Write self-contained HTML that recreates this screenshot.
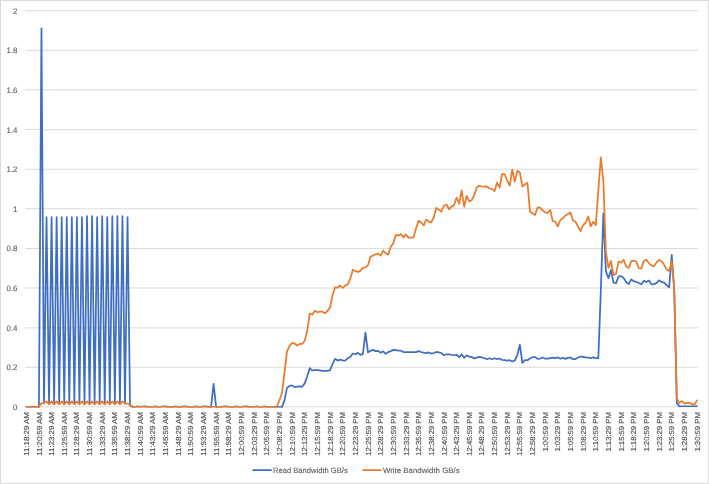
<!DOCTYPE html>
<html lang="en"><head><meta charset="utf-8"><title>Bandwidth chart</title>
<style>html,body{margin:0;padding:0;background:#fff}body{width:709px;height:484px;overflow:hidden}svg{display:block}text{font-family:"Liberation Sans",Arial,sans-serif;fill:#5a5a5a;stroke:#5a5a5a;stroke-width:0.1;text-rendering:geometricPrecision}.xl text{stroke-width:0.2}</style></head><body>
<svg width="709" height="484" viewBox="0 0 709 484">
<rect x="0" y="0" width="709" height="484" fill="#fff"/>
<rect x="0.5" y="0.5" width="708" height="483" fill="none" stroke="#dbdbdb" stroke-width="1"/>
<g stroke="#dbdbdb" stroke-width="1" fill="none">
<line x1="25.10" y1="406.80" x2="698.10" y2="406.80"/>
<line x1="25.10" y1="367.30" x2="698.10" y2="367.30"/>
<line x1="25.10" y1="327.90" x2="698.10" y2="327.90"/>
<line x1="25.10" y1="288.00" x2="698.10" y2="288.00"/>
<line x1="25.10" y1="248.50" x2="698.10" y2="248.50"/>
<line x1="25.10" y1="208.70" x2="698.10" y2="208.70"/>
<line x1="25.10" y1="169.30" x2="698.10" y2="169.30"/>
<line x1="25.10" y1="129.70" x2="698.10" y2="129.70"/>
<line x1="25.10" y1="89.80" x2="698.10" y2="89.80"/>
<line x1="25.10" y1="50.30" x2="698.10" y2="50.30"/>
<line x1="25.10" y1="10.70" x2="698.10" y2="10.70"/>
</g>
<g font-size="7.9" text-anchor="end">
<text x="17.5" y="410.00">0</text>
<text x="17.5" y="370.10">0.2</text>
<text x="17.5" y="330.70">0.4</text>
<text x="17.5" y="290.80">0.6</text>
<text x="17.5" y="251.30">0.8</text>
<text x="17.5" y="211.50">1</text>
<text x="17.5" y="172.10">1.2</text>
<text x="17.5" y="132.50">1.4</text>
<text x="17.5" y="92.60">1.6</text>
<text x="17.5" y="53.10">1.8</text>
<text x="17.5" y="13.50">2</text>
</g>
<g class="xl" font-size="7.3" text-anchor="end">
<text transform="translate(28.87,412.1) rotate(-90)" textLength="43.7" lengthAdjust="spacingAndGlyphs">11:18:29 AM</text>
<text transform="translate(41.53,412.1) rotate(-90)" textLength="43.7" lengthAdjust="spacingAndGlyphs">11:20:59 AM</text>
<text transform="translate(54.18,412.1) rotate(-90)" textLength="43.7" lengthAdjust="spacingAndGlyphs">11:23:29 AM</text>
<text transform="translate(66.84,412.1) rotate(-90)" textLength="43.7" lengthAdjust="spacingAndGlyphs">11:25:59 AM</text>
<text transform="translate(79.49,412.1) rotate(-90)" textLength="43.7" lengthAdjust="spacingAndGlyphs">11:28:29 AM</text>
<text transform="translate(92.15,412.1) rotate(-90)" textLength="43.7" lengthAdjust="spacingAndGlyphs">11:30:59 AM</text>
<text transform="translate(104.81,412.1) rotate(-90)" textLength="43.7" lengthAdjust="spacingAndGlyphs">11:33:29 AM</text>
<text transform="translate(117.46,412.1) rotate(-90)" textLength="43.7" lengthAdjust="spacingAndGlyphs">11:35:59 AM</text>
<text transform="translate(130.12,412.1) rotate(-90)" textLength="43.7" lengthAdjust="spacingAndGlyphs">11:38:29 AM</text>
<text transform="translate(142.77,412.1) rotate(-90)" textLength="43.7" lengthAdjust="spacingAndGlyphs">11:40:59 AM</text>
<text transform="translate(155.43,412.1) rotate(-90)" textLength="43.7" lengthAdjust="spacingAndGlyphs">11:43:29 AM</text>
<text transform="translate(168.09,412.1) rotate(-90)" textLength="43.7" lengthAdjust="spacingAndGlyphs">11:45:59 AM</text>
<text transform="translate(180.74,412.1) rotate(-90)" textLength="43.7" lengthAdjust="spacingAndGlyphs">11:48:29 AM</text>
<text transform="translate(193.40,412.1) rotate(-90)" textLength="43.7" lengthAdjust="spacingAndGlyphs">11:50:59 AM</text>
<text transform="translate(206.05,412.1) rotate(-90)" textLength="43.7" lengthAdjust="spacingAndGlyphs">11:53:29 AM</text>
<text transform="translate(218.71,412.1) rotate(-90)" textLength="43.7" lengthAdjust="spacingAndGlyphs">11:55:59 AM</text>
<text transform="translate(231.37,412.1) rotate(-90)" textLength="43.7" lengthAdjust="spacingAndGlyphs">11:58:29 AM</text>
<text transform="translate(244.02,412.1) rotate(-90)" textLength="43.7" lengthAdjust="spacingAndGlyphs">12:00:59 PM</text>
<text transform="translate(256.68,412.1) rotate(-90)" textLength="43.7" lengthAdjust="spacingAndGlyphs">12:03:29 PM</text>
<text transform="translate(269.33,412.1) rotate(-90)" textLength="43.7" lengthAdjust="spacingAndGlyphs">12:05:59 PM</text>
<text transform="translate(281.99,412.1) rotate(-90)" textLength="43.7" lengthAdjust="spacingAndGlyphs">12:08:29 PM</text>
<text transform="translate(294.65,412.1) rotate(-90)" textLength="43.7" lengthAdjust="spacingAndGlyphs">12:10:59 PM</text>
<text transform="translate(307.30,412.1) rotate(-90)" textLength="43.7" lengthAdjust="spacingAndGlyphs">12:13:29 PM</text>
<text transform="translate(319.96,412.1) rotate(-90)" textLength="43.7" lengthAdjust="spacingAndGlyphs">12:15:59 PM</text>
<text transform="translate(332.61,412.1) rotate(-90)" textLength="43.7" lengthAdjust="spacingAndGlyphs">12:18:29 PM</text>
<text transform="translate(345.27,412.1) rotate(-90)" textLength="43.7" lengthAdjust="spacingAndGlyphs">12:20:59 PM</text>
<text transform="translate(357.93,412.1) rotate(-90)" textLength="43.7" lengthAdjust="spacingAndGlyphs">12:23:29 PM</text>
<text transform="translate(370.58,412.1) rotate(-90)" textLength="43.7" lengthAdjust="spacingAndGlyphs">12:25:59 PM</text>
<text transform="translate(383.24,412.1) rotate(-90)" textLength="43.7" lengthAdjust="spacingAndGlyphs">12:28:29 PM</text>
<text transform="translate(395.89,412.1) rotate(-90)" textLength="43.7" lengthAdjust="spacingAndGlyphs">12:30:59 PM</text>
<text transform="translate(408.55,412.1) rotate(-90)" textLength="43.7" lengthAdjust="spacingAndGlyphs">12:33:29 PM</text>
<text transform="translate(421.21,412.1) rotate(-90)" textLength="43.7" lengthAdjust="spacingAndGlyphs">12:35:59 PM</text>
<text transform="translate(433.86,412.1) rotate(-90)" textLength="43.7" lengthAdjust="spacingAndGlyphs">12:38:29 PM</text>
<text transform="translate(446.52,412.1) rotate(-90)" textLength="43.7" lengthAdjust="spacingAndGlyphs">12:40:59 PM</text>
<text transform="translate(459.17,412.1) rotate(-90)" textLength="43.7" lengthAdjust="spacingAndGlyphs">12:43:29 PM</text>
<text transform="translate(471.83,412.1) rotate(-90)" textLength="43.7" lengthAdjust="spacingAndGlyphs">12:45:59 PM</text>
<text transform="translate(484.49,412.1) rotate(-90)" textLength="43.7" lengthAdjust="spacingAndGlyphs">12:48:29 PM</text>
<text transform="translate(497.14,412.1) rotate(-90)" textLength="43.7" lengthAdjust="spacingAndGlyphs">12:50:59 PM</text>
<text transform="translate(509.80,412.1) rotate(-90)" textLength="43.7" lengthAdjust="spacingAndGlyphs">12:53:29 PM</text>
<text transform="translate(522.45,412.1) rotate(-90)" textLength="43.7" lengthAdjust="spacingAndGlyphs">12:55:59 PM</text>
<text transform="translate(535.11,412.1) rotate(-90)" textLength="43.7" lengthAdjust="spacingAndGlyphs">12:58:29 PM</text>
<text transform="translate(547.77,412.1) rotate(-90)" textLength="39.5" lengthAdjust="spacingAndGlyphs">1:00:59 PM</text>
<text transform="translate(560.42,412.1) rotate(-90)" textLength="39.5" lengthAdjust="spacingAndGlyphs">1:03:29 PM</text>
<text transform="translate(573.08,412.1) rotate(-90)" textLength="39.5" lengthAdjust="spacingAndGlyphs">1:05:59 PM</text>
<text transform="translate(585.73,412.1) rotate(-90)" textLength="39.5" lengthAdjust="spacingAndGlyphs">1:08:29 PM</text>
<text transform="translate(598.39,412.1) rotate(-90)" textLength="39.5" lengthAdjust="spacingAndGlyphs">1:10:59 PM</text>
<text transform="translate(611.05,412.1) rotate(-90)" textLength="39.5" lengthAdjust="spacingAndGlyphs">1:13:29 PM</text>
<text transform="translate(623.70,412.1) rotate(-90)" textLength="39.5" lengthAdjust="spacingAndGlyphs">1:15:59 PM</text>
<text transform="translate(636.36,412.1) rotate(-90)" textLength="39.5" lengthAdjust="spacingAndGlyphs">1:18:29 PM</text>
<text transform="translate(649.01,412.1) rotate(-90)" textLength="39.5" lengthAdjust="spacingAndGlyphs">1:20:59 PM</text>
<text transform="translate(661.67,412.1) rotate(-90)" textLength="39.5" lengthAdjust="spacingAndGlyphs">1:23:29 PM</text>
<text transform="translate(674.33,412.1) rotate(-90)" textLength="39.5" lengthAdjust="spacingAndGlyphs">1:25:59 PM</text>
<text transform="translate(686.98,412.1) rotate(-90)" textLength="39.5" lengthAdjust="spacingAndGlyphs">1:28:29 PM</text>
<text transform="translate(699.64,412.1) rotate(-90)" textLength="39.5" lengthAdjust="spacingAndGlyphs">1:30:59 PM</text>
</g>
<path d="M26.27,406.80 L28.80,406.80 L31.33,406.80 L33.86,406.80 L36.39,406.80 L38.93,406.80" fill="none" stroke="#3f6fc4" stroke-width="1.45" stroke-linejoin="round" stroke-linecap="round"/>
<path d="M38.93,406.80 L41.46,28.27 L43.99,403.57 L46.52,217.21 L49.05,403.57 L51.58,217.21 L54.11,403.57 L56.64,217.21 L59.18,403.57 L61.71,217.21 L64.24,403.57 L66.77,217.21 L69.30,403.57 L71.83,217.21 L74.36,403.57 L76.89,217.21 L79.43,403.57 L81.96,217.21 L84.49,403.57 L87.02,216.22 L89.55,403.57 L92.08,216.22 L94.61,403.57 L97.14,217.21 L99.67,403.57 L102.21,216.22 L104.74,403.57 L107.27,217.21 L109.80,403.57 L112.33,216.22 L114.86,403.57 L117.39,216.22 L119.92,403.57 L122.46,216.22 L124.99,403.57 L127.52,217.21 L130.05,405.45 L132.58,406.80" fill="none" stroke="#3f6fc4" stroke-width="1.75" stroke-linejoin="round" stroke-linecap="round"/>
<path d="M132.58,406.80 L135.11,406.80 L137.64,406.30 L140.17,406.80 L142.71,406.50 L145.24,406.30 L147.77,406.80 L150.30,406.80 L152.83,406.80 L155.36,406.30 L157.89,406.80 L160.42,406.80 L162.95,406.50 L165.49,406.30 L168.02,406.80 L170.55,406.80 L173.08,406.80 L175.61,406.30 L178.14,406.80 L180.67,406.80 L183.20,406.50 L185.74,406.30 L188.27,406.80 L190.80,406.80 L193.33,406.80 L195.86,406.30 L198.39,406.80 L200.92,406.80 L203.45,406.50 L205.99,406.30 L208.52,406.80 L211.05,406.80" fill="none" stroke="#3f6fc4" stroke-width="1.45" stroke-linejoin="round" stroke-linecap="round"/>
<path d="M211.05,406.80 L213.58,383.96 L216.11,406.80" fill="none" stroke="#3f6fc4" stroke-width="1.75" stroke-linejoin="round" stroke-linecap="round"/>
<path d="M216.11,406.80 L218.64,406.80 L221.17,406.80 L223.70,406.50 L226.23,406.30 L228.77,406.80 L231.30,406.80 L233.83,406.80 L236.36,406.30 L238.89,406.80 L241.42,406.80 L243.95,406.50 L246.48,406.30 L249.02,406.80 L251.55,406.80 L254.08,406.80 L256.61,406.30 L259.14,406.80 L261.67,406.80 L264.20,406.30 L266.73,406.80 L269.27,406.80 L271.80,406.80 L274.33,406.80 L276.86,406.80 L279.39,406.80 L281.92,406.80" fill="none" stroke="#3f6fc4" stroke-width="1.45" stroke-linejoin="round" stroke-linecap="round"/>
<path d="M281.92,406.80 L284.45,400.60 L286.98,387.93 L289.51,385.95 L292.05,385.35 L294.58,387.13 L297.11,386.54 L299.64,386.34 L302.17,386.74 L304.70,383.37 L307.23,376.24 L309.76,368.12 L312.30,370.30 L314.83,370.10 L317.36,370.10 L319.89,370.30 L322.42,370.89 L324.95,370.89 L327.48,370.89 L330.01,370.30 L332.55,363.96 L335.08,358.81 L337.61,360.59 L340.14,359.60 L342.67,360.40 L345.20,360.59 L347.73,358.22 L350.26,357.03 L352.79,353.47 L355.33,354.26 L357.86,352.87 L360.39,354.85 L362.92,353.86 L365.45,332.67 L367.98,352.28 L370.51,350.89 L373.04,349.90 L375.58,351.09 L378.11,350.89 L380.64,352.67 L383.17,351.29 L385.70,353.86 L388.23,352.08 L390.76,351.09 L393.29,349.90 L395.83,350.10 L398.36,350.69 L400.89,350.69 L403.42,352.08 L405.95,352.08 L408.48,352.08 L411.01,352.08 L413.54,352.08 L416.07,352.08 L418.61,351.09 L421.14,351.98 L423.67,352.67 L426.20,353.07 L428.73,352.47 L431.26,353.47 L433.79,353.07 L436.32,351.98 L438.86,352.28 L441.39,353.17 L443.92,355.25 L446.45,354.26 L448.98,354.26 L451.51,354.75 L454.04,355.25 L456.57,354.75 L459.11,357.23 L461.64,354.26 L464.17,357.72 L466.70,355.45 L469.23,356.73 L471.76,356.93 L474.29,358.42 L476.82,357.53 L479.35,356.93 L481.89,357.43 L484.42,358.22 L486.95,359.21 L489.48,358.22 L492.01,359.21 L494.54,358.22 L497.07,359.21 L499.60,358.52 L502.14,360.00 L504.67,360.20 L507.20,360.69 L509.73,360.20 L512.26,361.49 L514.79,360.50 L517.32,355.25 L519.85,344.75 L522.39,362.97 L524.92,360.20 L527.45,360.20 L529.98,358.52 L532.51,357.23 L535.04,357.03 L537.57,358.91 L540.10,358.52 L542.63,357.53 L545.17,358.71 L547.70,358.71 L550.23,358.22 L552.76,357.72 L555.29,358.12 L557.82,357.43 L560.35,358.71 L562.88,357.72 L565.42,358.91 L567.95,357.92 L570.48,357.43 L573.01,359.21 L575.54,359.01 L578.07,357.53 L580.60,356.53 L583.13,356.93 L585.67,357.43 L588.20,357.72 L590.73,358.22 L593.26,357.43 L595.79,358.22 L598.32,358.22 L600.85,289.69 L603.38,213.44 L605.91,271.27 L608.45,278.21 L610.98,269.89 L613.51,282.76 L616.04,283.16 L618.57,276.42 L621.10,276.23 L623.63,278.01 L626.16,281.97 L628.70,284.15 L631.23,279.39 L633.76,281.18 L636.29,281.97 L638.82,282.96 L641.35,284.25 L643.88,280.88 L646.41,282.07 L648.95,280.58 L651.48,284.35 L654.01,284.15 L656.54,283.16 L659.07,280.29 L661.60,282.17 L664.13,282.56 L666.66,285.14 L669.19,287.32 L671.73,254.84 L674.26,289.69 L676.79,403.18 L679.32,406.21" fill="none" stroke="#3f6fc4" stroke-width="1.75" stroke-linejoin="round" stroke-linecap="round"/>
<path d="M679.32,406.21 L681.85,406.21 L684.38,406.21 L686.91,406.21 L689.44,406.21 L691.98,406.21 L694.51,406.21 L697.04,406.21" fill="none" stroke="#3f6fc4" stroke-width="1.45" stroke-linejoin="round" stroke-linecap="round"/>
<path d="M26.27,406.80 L28.80,406.80 L31.33,406.80 L33.86,406.80 L36.39,406.80 L38.93,406.80" fill="none" stroke="#ee7a2b" stroke-width="1.45" stroke-linejoin="round" stroke-linecap="round"/>
<path d="M38.93,406.80 L41.46,403.37 L43.99,402.78 L46.52,401.39 L49.05,404.36 L51.58,401.39 L54.11,404.36 L56.64,401.39 L59.18,404.36 L61.71,401.39 L64.24,404.36 L66.77,401.39 L69.30,404.36 L71.83,401.39 L74.36,404.36 L76.89,401.39 L79.43,404.36 L81.96,401.39 L84.49,404.36 L87.02,401.39 L89.55,404.36 L92.08,401.39 L94.61,404.36 L97.14,401.39 L99.67,404.36 L102.21,401.39 L104.74,404.36 L107.27,401.39 L109.80,404.36 L112.33,401.39 L114.86,404.36 L117.39,401.39 L119.92,404.36 L122.46,401.39 L124.99,403.37 L127.52,403.57 L130.05,404.96 L132.58,406.60" fill="none" stroke="#ee7a2b" stroke-width="1.75" stroke-linejoin="round" stroke-linecap="round"/>
<path d="M132.58,406.60 L135.11,406.80 L137.64,406.80 L140.17,406.80 L142.71,406.40 L145.24,406.80 L147.77,406.80 L150.30,406.80 L152.83,406.80 L155.36,406.80 L157.89,406.80 L160.42,406.80 L162.95,406.40 L165.49,406.80 L168.02,406.80 L170.55,406.80 L173.08,406.80 L175.61,406.80 L178.14,406.80 L180.67,406.80 L183.20,406.40 L185.74,406.80 L188.27,406.80 L190.80,406.80 L193.33,406.80 L195.86,406.80 L198.39,406.80 L200.92,406.80 L203.45,406.40 L205.99,406.80 L208.52,406.80 L211.05,406.80 L213.58,406.80 L216.11,406.80 L218.64,406.80 L221.17,406.80 L223.70,406.40 L226.23,406.80 L228.77,406.80 L231.30,406.80 L233.83,406.80 L236.36,406.80 L238.89,406.80 L241.42,406.80 L243.95,406.40 L246.48,406.80 L249.02,406.80 L251.55,406.80 L254.08,406.80 L256.61,406.80 L259.14,406.80 L261.67,406.80 L264.20,406.80 L266.73,406.80 L269.27,406.80 L271.80,406.80 L274.33,406.80 L276.86,406.80" fill="none" stroke="#ee7a2b" stroke-width="1.45" stroke-linejoin="round" stroke-linecap="round"/>
<path d="M276.86,406.80 L279.39,400.20 L281.92,393.27 L284.45,372.87 L286.98,351.29 L289.51,346.14 L292.05,342.97 L294.58,343.56 L297.11,345.54 L299.64,343.96 L302.17,343.96 L304.70,340.79 L307.23,330.89 L309.76,313.66 L312.30,314.45 L314.83,310.69 L317.36,312.27 L319.89,311.68 L322.42,311.68 L324.95,313.26 L327.48,310.88 L330.01,307.62 L332.55,295.24 L335.08,287.32 L337.61,287.71 L340.14,285.53 L342.67,287.91 L345.20,285.53 L347.73,284.35 L350.26,278.80 L352.79,269.89 L355.33,271.08 L357.86,271.87 L360.39,270.88 L362.92,267.91 L365.45,267.31 L367.98,265.13 L370.51,256.62 L373.04,255.63 L375.58,254.24 L378.11,253.65 L380.64,255.63 L383.17,250.48 L385.70,253.25 L388.23,254.64 L390.76,246.72 L393.29,243.35 L395.83,234.83 L398.36,235.63 L400.89,234.04 L403.42,237.41 L405.95,234.44 L408.48,237.61 L411.01,237.61 L413.54,237.41 L416.07,228.30 L418.61,220.77 L421.14,222.55 L423.67,225.52 L426.20,219.58 L428.73,221.56 L431.26,222.36 L433.79,217.21 L436.32,207.90 L438.86,209.68 L441.39,211.66 L443.92,205.72 L446.45,204.53 L448.98,209.28 L451.51,206.71 L454.04,204.93 L456.57,197.60 L459.11,203.74 L461.64,190.47 L464.17,206.71 L466.70,195.82 L469.23,201.36 L471.76,200.17 L474.29,195.22 L476.82,187.10 L479.35,185.91 L481.89,186.51 L484.42,186.51 L486.95,186.31 L489.48,188.49 L492.01,188.89 L494.54,191.06 L497.07,182.55 L499.60,187.50 L502.14,174.03 L504.67,174.03 L507.20,180.77 L509.73,185.52 L512.26,169.67 L514.79,181.76 L517.32,170.86 L519.85,172.45 L522.39,186.71 L524.92,184.33 L527.45,182.75 L529.98,211.46 L532.51,213.25 L535.04,215.03 L537.57,207.50 L540.10,207.70 L542.63,210.27 L545.17,212.45 L547.70,213.05 L550.23,209.88 L552.76,220.97 L555.29,221.76 L557.82,226.32 L560.35,219.98 L562.88,218.20 L565.42,215.62 L567.95,214.04 L570.48,212.45 L573.01,220.57 L575.54,221.76 L578.07,226.71 L580.60,231.07 L583.13,225.13 L585.67,222.75 L588.20,216.41 L590.73,226.32 L593.26,221.76 L595.79,225.33 L598.32,190.67 L600.85,157.40 L603.38,181.76 L605.91,252.06 L608.45,267.91 L610.98,260.78 L613.51,275.24 L616.04,273.65 L618.57,261.57 L621.10,262.76 L623.63,259.79 L626.16,266.52 L628.70,267.91 L631.23,261.37 L633.76,260.58 L636.29,261.77 L638.82,268.30 L641.35,268.50 L643.88,260.78 L646.41,259.79 L648.95,263.35 L651.48,265.33 L654.01,266.32 L656.54,262.36 L659.07,259.79 L661.60,261.37 L664.13,264.84 L666.66,269.59 L669.19,271.08 L671.73,261.17 L674.26,290.09 L676.79,398.32 L679.32,403.08 L681.85,401.00 L684.38,403.57 L686.91,402.88 L689.44,402.88 L691.98,404.03 L694.51,404.50 L697.04,400.40" fill="none" stroke="#ee7a2b" stroke-width="1.75" stroke-linejoin="round" stroke-linecap="round"/>
<line x1="253.1" y1="470.1" x2="271.0" y2="470.1" stroke="#3f6fc4" stroke-width="1.9" stroke-linecap="round"/>
<text x="273.0" y="472.7" font-size="7.7" textLength="74.7" lengthAdjust="spacingAndGlyphs">Read Bandwidth GB/s</text>
<line x1="363.2" y1="470.1" x2="380.6" y2="470.1" stroke="#ee7a2b" stroke-width="1.9" stroke-linecap="round"/>
<text x="383.0" y="472.7" font-size="7.7" textLength="76.6" lengthAdjust="spacingAndGlyphs">Write Bandwidth GB/s</text>
</svg></body></html>
